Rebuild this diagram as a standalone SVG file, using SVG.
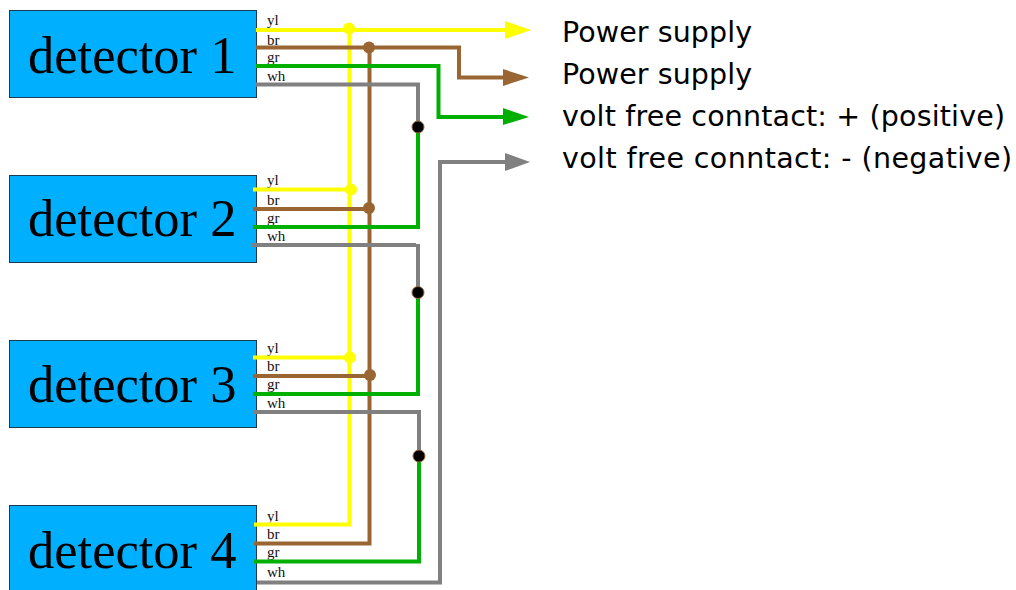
<svg xmlns="http://www.w3.org/2000/svg" width="1016" height="590" viewBox="0 0 1016 590">
<style>
.box{fill:#00b0ff;stroke:#1a3a55;stroke-width:1}
.name{font-family:"Liberation Serif",serif;font-size:52.500px;fill:#000}
.tag{font-family:"Liberation Serif",serif;font-size:15px;fill:#111}
.out{font-family:"DejaVu Sans",sans-serif;font-size:28.500px;fill:#000}
.w{fill:none;stroke-width:4;stroke-linejoin:miter}
.y{stroke:#ffff00}.b{stroke:#996633}.g{stroke:#00b000}.k{stroke:#808080}
.j{fill:#000;stroke:#996633;stroke-width:1}
</style>
<g id="detector1"><rect class="box" x="9.500" y="10.500" width="247" height="87"/><text class="name" x="28" y="73">detector 1</text><text class="tag" x="267" y="25">yl</text><text class="tag" x="267" y="45">br</text><text class="tag" x="267" y="62">gr</text><text class="tag" x="267" y="81">wh</text></g>
<g id="detector2"><rect class="box" x="9.500" y="175.500" width="247" height="87"/><text class="name" x="28" y="236">detector 2</text><text class="tag" x="267" y="185">yl</text><text class="tag" x="267" y="205">br</text><text class="tag" x="267" y="223">gr</text><text class="tag" x="267" y="241">wh</text></g>
<g id="detector3"><rect class="box" x="9.500" y="340.500" width="247" height="87"/><text class="name" x="28" y="402">detector 3</text><text class="tag" x="267" y="353">yl</text><text class="tag" x="267" y="371">br</text><text class="tag" x="267" y="389">gr</text><text class="tag" x="267" y="408">wh</text></g>
<g id="detector4"><rect class="box" x="9.500" y="505.500" width="247" height="87"/><text class="name" x="28" y="568">detector 4</text><text class="tag" x="267" y="521">yl</text><text class="tag" x="267" y="539">br</text><text class="tag" x="267" y="557">gr</text><text class="tag" x="267" y="577">wh</text></g>
<g id="connectors">
<path class="w y" d="M349.500 30V524.500H254"/>
<path class="w y" d="M256 30H510"/><path fill="#ffff00" d="M505 21L531 30L505 39Z"/>
<path class="w y" d="M253 189.500H351"/><path class="w y" d="M253 357.500H350"/>
<path class="w b" d="M369.500 47.500V543.500H254"/>
<path class="w b" d="M256 47.500H459V77.500H505"/><path fill="#996633" d="M503 69L529 77.500L503 86Z"/>
<path class="w b" d="M253 209H369"/><path class="w b" d="M253 376H370"/>
<path class="w g" d="M256 66H438.500V117H505"/><path fill="#00b000" d="M503 108L529 117L503 125Z"/>
<path class="w g" d="M418 127V227H253"/><path class="w g" d="M418 292V394H253"/><path class="w g" d="M419 456V561.500H254"/>
<path class="w k" d="M256 84.500H418V127"/><path class="w k" d="M252 245H416"/><path class="w k" d="M418 244V292"/>
<path class="w k" d="M253 412H419V456"/>
<path class="w k" d="M257 582.500H440V162H505"/><path fill="#808080" d="M505 153L530 162L505 171Z"/>
<circle cx="349" cy="28.500" r="6" fill="#ffff00"/><circle cx="351" cy="189.500" r="6" fill="#ffff00"/><circle cx="350" cy="357.500" r="6" fill="#ffff00"/>
<circle cx="369" cy="47.500" r="6" fill="#996633"/><circle cx="369" cy="208" r="6" fill="#996633"/><circle cx="370" cy="375" r="6" fill="#996633"/>
<circle class="j" cx="418" cy="127" r="6"/><circle class="j" cx="418" cy="292.500" r="6"/><circle class="j" cx="419" cy="456" r="6"/>
</g>
<g id="outputs"><text class="out" x="562" y="42" textLength="190">Power supply</text><text class="out" x="562" y="84" textLength="190">Power supply</text><text class="out" x="562" y="126" textLength="443">volt free conntact: + (positive)</text><text class="out" x="562" y="168" textLength="450">volt free conntact: - (negative)</text></g>
</svg>
